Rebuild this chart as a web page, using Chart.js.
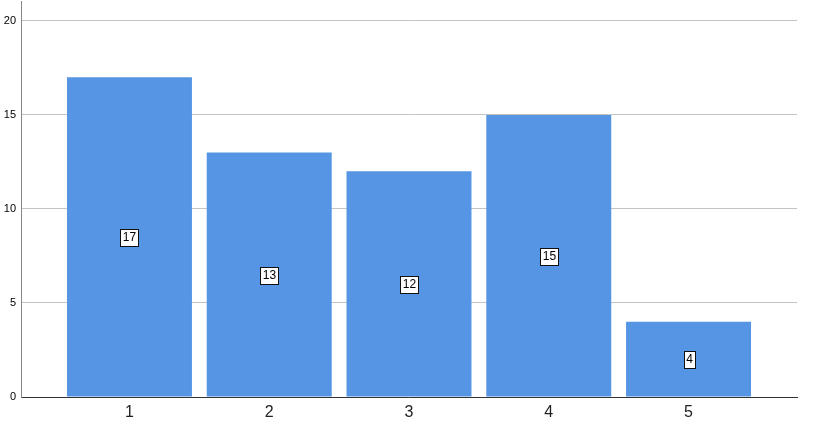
<!DOCTYPE html>
<html>
<head>
<meta charset="utf-8">
<script src="https://cdn.jsdelivr.net/npm/chart.js@4"></script>
<style>
html,body{margin:0;padding:0;background:#fff;}
#wrap{width:830px;height:432px;}
</style>
</head>
<body>
<div id="wrap"><canvas id="c" width="830" height="432"></canvas></div>
<script>
const categories = [1, 2, 3, 4, 5];
const counts = [17, 13, 12, 15, 4];
const yTicks = [0, 5, 10, 15, 20];

const points = categories.map((c, i) => ({x: c, y: counts[i]}));

const labelBoxes = {
  id: 'labelBoxes',
  afterDatasetsDraw(chart) {
    const ctx = chart.ctx;
    const meta = chart.getDatasetMeta(0);
    ctx.save();
    ctx.font = '12px "Liberation Sans", Arial, sans-serif';
    ctx.textAlign = 'center';
    ctx.textBaseline = 'middle';
    meta.data.forEach((bar, i) => {
      const txt = String(counts[i]);
      const cx = Math.round(bar.x);
      const cy = Math.round((bar.y + bar.base) / 2);
      const w = Math.ceil(ctx.measureText(txt).width) + 4;
      const h = 17;
      const x0 = Math.round(cx - w / 2) + 0.5;
      const y0 = Math.round(cy - h / 2) + 0.5;
      ctx.fillStyle = '#fff';
      ctx.fillRect(x0, y0, w, h);
      ctx.strokeStyle = '#111';
      ctx.lineWidth = 1;
      ctx.strokeRect(x0, y0, w, h);
      ctx.fillStyle = '#000';
      ctx.fillText(txt, cx + 0.5, cy + 1);
    });
    ctx.restore();
  }
};

new Chart(document.getElementById('c'), {
  type: 'bar',
  data: {
    datasets: [{
      data: points,
      backgroundColor: 'rgb(85,149,228)',
      borderWidth: 0,
      barPercentage: 0.894,
      categoryPercentage: 1
    }]
  },
  options: {
    responsive: false,
    animation: false,
    devicePixelRatio: 1,
    layout: {padding: {top: 1, right: 33, left: 0, bottom: 0}},
    plugins: {legend: {display: false}, tooltip: {enabled: false}},
    scales: {
      x: {
        type: 'linear',
        min: 0.224,
        max: 5.776,
        offset: false,
        afterBuildTicks(axis) { axis.ticks = categories.map(v => ({value: v})); },
        afterFit(axis) { axis.height = 35; axis.paddingLeft = 0; axis.paddingRight = 0; },
        grid: {display: false, drawTicks: false, offset: false},
        border: {display: true, color: '#333', width: 1},
        ticks: {
          padding: 6,
          color: '#222',
          font: {family: '"Liberation Sans", Arial, sans-serif', size: 16},
          callback: v => String(v)
        }
      },
      y: {
        min: 0,
        max: 21.06,
        afterBuildTicks(axis) { axis.ticks = yTicks.map(v => ({value: v})); },
        afterFit(axis) { axis.width = 21; axis.paddingTop = 0; axis.paddingBottom = 0; },
        grid: {color: '#c4c4c4', drawTicks: false, lineWidth: 1},
        border: {display: true, color: '#888', width: 1},
        ticks: {
          padding: 5,
          color: '#000',
          font: {family: '"Liberation Sans", Arial, sans-serif', size: 11},
          callback: v => String(v)
        }
      }
    }
  },
  plugins: [labelBoxes]
});
</script>
</body>
</html>
